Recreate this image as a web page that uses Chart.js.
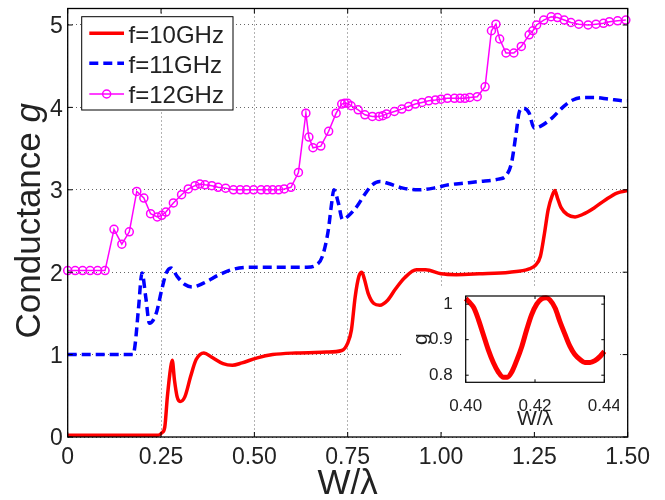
<!DOCTYPE html>
<html><head><meta charset="utf-8">
<script src="https://cdn.jsdelivr.net/npm/chart.js@4.4.1/dist/chart.umd.min.js"></script>
<style>
html,body{margin:0;padding:0;background:#fff;}
#wrap{position:relative;width:665px;height:500px;overflow:hidden;}
#main{position:absolute;left:0;top:0;}
#inset{position:absolute;left:403px;top:288px;background:#fff;}
</style></head><body>
<div id="wrap">
<canvas id="main" width="665" height="500"></canvas>
<canvas id="inset" width="216" height="144"></canvas>
</div>
<script>
// ---------------- data ----------------
const xTickVals   = [0, 0.25, 0.5, 0.75, 1.0, 1.25, 1.5];
const xTickLabels = ['0', '0.25', '0.50', '0.75', '1.00', '1.25', '1.50'];
const yTickVals   = [0, 1, 2, 3, 4, 5];
const yTickLabels = ['0', '1', '2', '3', '4', '5'];
const seriesNames = ['f=10GHz', 'f=11GHz', 'f=12GHz'];
const xTitle = 'W/\u03bb';
const yTitleMain = 'Conductance ';
const yTitleVar = 'g';

// f = 10 GHz
const x10 = [0, 0.242, 0.252, 0.26, 0.267, 0.276, 0.28, 0.286, 0.293, 0.301,
             0.314, 0.329, 0.344, 0.365, 0.385, 0.416, 0.441, 0.467, 0.508, 0.549,
             0.611, 0.693, 0.734, 0.75, 0.76, 0.77, 0.78, 0.788, 0.795, 0.805,
             0.82, 0.836, 0.857, 0.877, 0.902, 0.934, 0.959, 1.0, 1.041, 1.102,
             1.184, 1.236, 1.254, 1.266, 1.277, 1.287, 1.297, 1.305, 1.312, 1.322,
             1.338, 1.359, 1.379, 1.41, 1.441, 1.471, 1.5];
const g10 = [0.02, 0.02, 0.05, 0.12, 0.49, 0.85, 0.93, 0.69, 0.49, 0.43,
             0.49, 0.73, 0.94, 1.02, 0.97, 0.89, 0.87, 0.90, 0.96, 1.00,
             1.02, 1.03, 1.05, 1.14, 1.30, 1.70, 1.95, 2.00, 1.91, 1.74,
             1.62, 1.60, 1.66, 1.79, 1.93, 2.03, 2.03, 1.98, 1.97, 1.98,
             2.00, 2.04, 2.09, 2.19, 2.47, 2.76, 2.92, 2.99, 2.90, 2.78,
             2.70, 2.67, 2.70, 2.78, 2.88, 2.96, 2.99];

// f = 11 GHz
const x11 = [0, 0.175, 0.18, 0.19, 0.199, 0.209, 0.219, 0.237, 0.252, 0.264,
             0.277, 0.293, 0.314, 0.334, 0.365, 0.406, 0.447, 0.488, 0.549, 0.641,
             0.667, 0.682, 0.698, 0.706, 0.713, 0.725, 0.736, 0.751, 0.775, 0.795,
             0.816, 0.836, 0.857, 0.898, 0.939, 0.98, 1.02, 1.061, 1.102, 1.154,
             1.174, 1.189, 1.2, 1.21, 1.22, 1.236, 1.249, 1.266, 1.297, 1.328,
             1.353, 1.379, 1.41, 1.45, 1.492, 1.5];
const g11 = [1.0, 1.0, 1.10, 1.58, 1.99, 1.70, 1.38, 1.50, 1.79, 1.99,
             2.05, 1.95, 1.85, 1.82, 1.87, 1.97, 2.04, 2.06, 2.06, 2.06,
             2.09, 2.19, 2.51, 2.80, 3.00, 2.84, 2.64, 2.68, 2.80, 2.94,
             3.06, 3.10, 3.08, 3.02, 3.00, 3.02, 3.06, 3.08, 3.10, 3.13,
             3.17, 3.33, 3.65, 3.95, 3.99, 3.93, 3.75, 3.77, 3.87, 4.01,
             4.09, 4.12, 4.12, 4.10, 4.08, 4.08];

// f = 12 GHz
const x12 = [0, 0.02, 0.04, 0.06, 0.08, 0.10, 0.124, 0.145, 0.165, 0.185,
             0.204, 0.222, 0.240, 0.252, 0.263, 0.283, 0.305, 0.323, 0.341, 0.354,
             0.368, 0.386, 0.403, 0.423, 0.444, 0.462, 0.479, 0.498, 0.518, 0.534,
             0.549, 0.565, 0.580, 0.598, 0.618, 0.638, 0.646, 0.657, 0.678, 0.699,
             0.719, 0.734, 0.742, 0.750, 0.759, 0.778, 0.796, 0.816, 0.834, 0.844,
             0.854, 0.875, 0.895, 0.913, 0.931, 0.949, 0.967, 0.985, 1.000, 1.017,
             1.036, 1.051, 1.064, 1.077, 1.097, 1.118, 1.135, 1.147, 1.157, 1.174,
             1.195, 1.215, 1.236, 1.246, 1.256, 1.275, 1.295, 1.312, 1.330, 1.348,
             1.369, 1.394, 1.415, 1.435, 1.451, 1.473, 1.495];
const g12 = [2.02, 2.02, 2.02, 2.02, 2.02, 2.02, 2.52, 2.34, 2.49, 2.98,
             2.90, 2.71, 2.67, 2.69, 2.73, 2.84, 2.94, 3.01, 3.05, 3.07,
             3.06, 3.05, 3.03, 3.02, 3.00, 3.00, 3.00, 3.00, 3.00, 3.00,
             3.00, 3.00, 3.01, 3.03, 3.21, 3.93, 3.64, 3.51, 3.53, 3.71,
             3.93, 4.04, 4.05, 4.05, 4.02, 3.97, 3.91, 3.89, 3.89, 3.90,
             3.92, 3.95, 3.98, 4.01, 4.04, 4.06, 4.08, 4.09, 4.10, 4.11,
             4.11, 4.11, 4.11, 4.12, 4.13, 4.25, 4.93, 5.01, 4.83, 4.66,
             4.66, 4.74, 4.88, 4.93, 5.00, 5.06, 5.10, 5.09, 5.06, 5.03,
             5.01, 5.00, 5.01, 5.02, 5.04, 5.05, 5.06];

// inset: f = 10 GHz, 0.40 .. 0.44
const insetX = [0.4000, 0.4013, 0.4024, 0.4037, 0.4051, 0.4065, 0.4080, 0.4094, 0.4109, 0.4120,
                0.4133, 0.4147, 0.4162, 0.4176, 0.4190, 0.4205, 0.4219, 0.4232, 0.4243, 0.4258,
                0.4272, 0.4287, 0.4301, 0.4315, 0.4330, 0.4344, 0.4359, 0.4373, 0.4388, 0.4400];
const insetG = [1.016, 1.003, 0.989, 0.956, 0.914, 0.872, 0.835, 0.809, 0.794, 0.794,
                0.809, 0.841, 0.881, 0.928, 0.970, 1.000, 1.015, 1.018, 1.012, 0.989,
                0.951, 0.914, 0.881, 0.858, 0.844, 0.836, 0.836, 0.841, 0.853, 0.867];
const insetXTickVals   = [0.40, 0.42, 0.44];
const insetXTickLabels = ['0.40', '0.42', '0.44'];
const insetYTickVals   = [0.8, 0.9, 1.0];
const insetYTickLabels = ['0.8', '0.9', '1'];
const insetXTitle = 'W/\u03bb';
const insetYTitle = 'g';

// ---------------- styles ----------------
const FONT = "'Liberation Sans', Arial, Helvetica, sans-serif";
const TXT = '#222';
const GRID = 'rgba(0,0,0,0.6)';
const toXY = (xs, ys) => xs.map((x, i) => ({ x: x, y: ys[i] }));

// frame + inward ticks (positions come from the scales)
const framePlugin = {
  id: 'mlFrame',
  afterDatasetsDraw(chart, args, o) {
    const { ctx, chartArea: a, scales } = chart;
    const xs = scales.x, ys = scales.y, L = o.len;
    ctx.save();
    ctx.setLineDash([]);
    ctx.strokeStyle = '#000';
    ctx.lineWidth = 1;
    ctx.beginPath();
    xs.ticks.forEach(t => {
      const p = xs.getPixelForValue(t.value);
      ctx.moveTo(p, a.bottom); ctx.lineTo(p, a.bottom - L);
      ctx.moveTo(p, a.top); ctx.lineTo(p, a.top + L);
    });
    ys.ticks.forEach(t => {
      const p = ys.getPixelForValue(t.value);
      ctx.moveTo(a.left, p); ctx.lineTo(a.left + L, p);
      ctx.moveTo(a.right, p); ctx.lineTo(a.right - L, p);
    });
    ctx.stroke();
    ctx.lineWidth = o.lw || 1.2;
    ctx.strokeRect(a.left, a.top, a.right - a.left, a.bottom - a.top);
    ctx.restore();
  }
};

// MATLAB-style legend box drawn from the datasets
const legendPlugin = {
  id: 'mlLegend',
  afterDraw(chart, args, o) {
    const ctx = chart.ctx;
    ctx.save();
    ctx.fillStyle = '#fff';
    ctx.fillRect(o.x, o.y, o.w, o.h);
    ctx.strokeStyle = '#000';
    ctx.lineWidth = 1;
    ctx.setLineDash([]);
    ctx.strokeRect(o.x, o.y, o.w, o.h);
    chart.data.datasets.forEach((ds, i) => {
      const ry = o.rows[i];
      ctx.strokeStyle = ds.borderColor;
      ctx.lineWidth = ds.borderWidth;
      ctx.setLineDash(ds.borderDash || []);
      ctx.beginPath();
      ctx.moveTo(o.lx0, ry); ctx.lineTo(o.lx1, ry);
      ctx.stroke();
      ctx.setLineDash([]);
      if (ds.pointRadius > 0) {
        ctx.lineWidth = ds.pointBorderWidth;
        ctx.beginPath();
        ctx.arc((o.lx0 + o.lx1) / 2, ry, ds.pointRadius, 0, Math.PI * 2);
        ctx.stroke();
      }
      ctx.fillStyle = TXT;
      ctx.font = o.size + 'px ' + FONT;
      ctx.textBaseline = 'alphabetic';
      ctx.textAlign = 'left';
      ctx.fillText(ds.label, o.tx, o.base[i]);
    });
    ctx.restore();
  }
};

// y title with italic variable
const yTitlePlugin = {
  id: 'mlYTitle',
  afterDraw(chart, args, o) {
    const ctx = chart.ctx;
    ctx.save();
    ctx.fillStyle = TXT;
    ctx.textBaseline = 'alphabetic';
    ctx.textAlign = 'left';
    const fR = o.size + 'px ' + FONT, fI = 'italic ' + o.size + 'px ' + FONT;
    ctx.font = fR; const w1 = ctx.measureText(yTitleMain).width;
    ctx.font = fI; const w2 = ctx.measureText(yTitleVar).width;
    const cy = (chart.chartArea.top + chart.chartArea.bottom) / 2 + o.dy;
    ctx.translate(o.x, cy);
    ctx.rotate(-Math.PI / 2);
    const x0 = -(w1 + w2) / 2;
    ctx.font = fR; ctx.fillText(yTitleMain, x0, 0);
    ctx.font = fI; ctx.fillText(yTitleVar, x0 + w1, 0);
    ctx.restore();
  }
};

const zeroPad = s => { s.paddingLeft = 0; s.paddingRight = 0; s.paddingTop = 0; s.paddingBottom = 0; };

// ---------------- main chart ----------------
new Chart(document.getElementById('main'), {
  type: 'line',
  data: {
    datasets: [
      { label: seriesNames[0], data: toXY(x10, g10), borderColor: '#ff0000', borderWidth: 3.5,
        pointRadius: 0, cubicInterpolationMode: 'monotone', clip: false, fill: false },
      { label: seriesNames[1], data: toXY(x11, g11), borderColor: '#0000ff', borderWidth: 3.5,
        borderDash: [9, 5], pointRadius: 0, cubicInterpolationMode: 'monotone', clip: false, fill: false },
      { label: seriesNames[2], data: toXY(x12, g12), borderColor: '#ff00ff', borderWidth: 1.5,
        pointRadius: 4, pointBorderWidth: 1.5, pointBorderColor: '#ff00ff',
        pointBackgroundColor: 'rgba(0,0,0,0)', tension: 0, clip: false, fill: false }
    ]
  },
  options: {
    responsive: false, animation: false, devicePixelRatio: 1,
    layout: { padding: { left: 0, top: 8.5, right: 37.3, bottom: 0 } },
    plugins: {
      legend: { display: false }, tooltip: { enabled: false },
      mlFrame: { len: 5, lw: 1.3 },
      mlLegend: { x: 81.7, y: 16.7, w: 151.3, h: 93.3, rows: [33.3, 63.3, 94],
                  base: [43.3, 72.7, 102.7], lx0: 89.3, lx1: 124, tx: 128.5, size: 24 },
      mlYTitle: { x: 40, dy: -2, size: 35 }
    },
    scales: {
      x: {
        type: 'linear', min: 0, max: 1.5,
        afterBuildTicks: s => { s.ticks = xTickVals.map(v => ({ value: v })); },
        afterFit: s => { s.height = 63; zeroPad(s); },
        grid: { color: GRID, lineWidth: 1, drawTicks: false },
        border: { display: false, dash: [1, 3] },
        ticks: { padding: 9, maxRotation: 0, autoSkip: false, color: TXT,
                 font: { family: FONT, size: 23, lineHeight: '24px' },
                 callback: (v, i) => xTickLabels[i] },
        title: { display: true, text: xTitle, color: TXT,
                 font: { family: FONT, size: 35, lineHeight: '32px' }, padding: 0 }
      },
      y: {
        type: 'linear', min: 0, max: 5.2,
        afterBuildTicks: s => { s.ticks = yTickVals.map(v => ({ value: v })); },
        afterFit: s => { s.width = 67.7; zeroPad(s); },
        grid: { color: GRID, lineWidth: 1, drawTicks: false },
        border: { display: false, dash: [1, 3] },
        ticks: { padding: 5, labelOffset: 2, autoSkip: false, color: TXT,
                 font: { family: FONT, size: 23, lineHeight: '24px' },
                 callback: (v, i) => yTickLabels[i] }
      }
    }
  },
  plugins: [framePlugin, legendPlugin, yTitlePlugin]
});

// ---------------- inset chart ----------------
new Chart(document.getElementById('inset'), {
  type: 'line',
  data: {
    datasets: [
      { label: seriesNames[0], data: toXY(insetX, insetG), borderColor: '#ff0000', borderWidth: 5,
        pointRadius: 0, cubicInterpolationMode: 'monotone', clip: false, fill: false }
    ]
  },
  options: {
    responsive: false, animation: false, devicePixelRatio: 1,
    layout: { padding: { left: 0, top: 8, right: 14.7, bottom: 0 } },
    plugins: { legend: { display: false }, tooltip: { enabled: false }, mlFrame: { len: 3, lw: 1.2 } },
    scales: {
      x: {
        type: 'linear', min: 0.40, max: 0.44,
        afterBuildTicks: s => { s.ticks = insetXTickVals.map(v => ({ value: v })); },
        afterFit: s => { s.height = 49.7; zeroPad(s); },
        grid: { display: false },
        border: { display: false },
        ticks: { padding: 6.7, maxRotation: 0, autoSkip: false, color: TXT,
                 font: { family: FONT, size: 17, lineHeight: '18px' },
                 callback: (v, i) => insetXTickLabels[i] },
        title: { display: true, text: insetXTitle, color: TXT,
                 font: { family: FONT, size: 21, lineHeight: '22px' }, padding: { top: 0, bottom: 2 } }
      },
      y: {
        type: 'linear', min: 0.78, max: 1.023,
        afterBuildTicks: s => { s.ticks = insetYTickVals.map(v => ({ value: v })); },
        afterFit: s => { s.width = 62.7; zeroPad(s); },
        grid: { display: false },
        border: { display: false },
        ticks: { padding: 5, autoSkip: false, color: TXT,
                 font: { family: FONT, size: 17, lineHeight: '18px' },
                 callback: (v, i) => insetYTickLabels[i] },
        title: { display: true, text: insetYTitle, color: TXT,
                 font: { family: FONT, size: 21, lineHeight: '22px' }, padding: { top: 7, bottom: 0 } }
      }
    }
  },
  plugins: [framePlugin]
});
</script>
</body></html>
